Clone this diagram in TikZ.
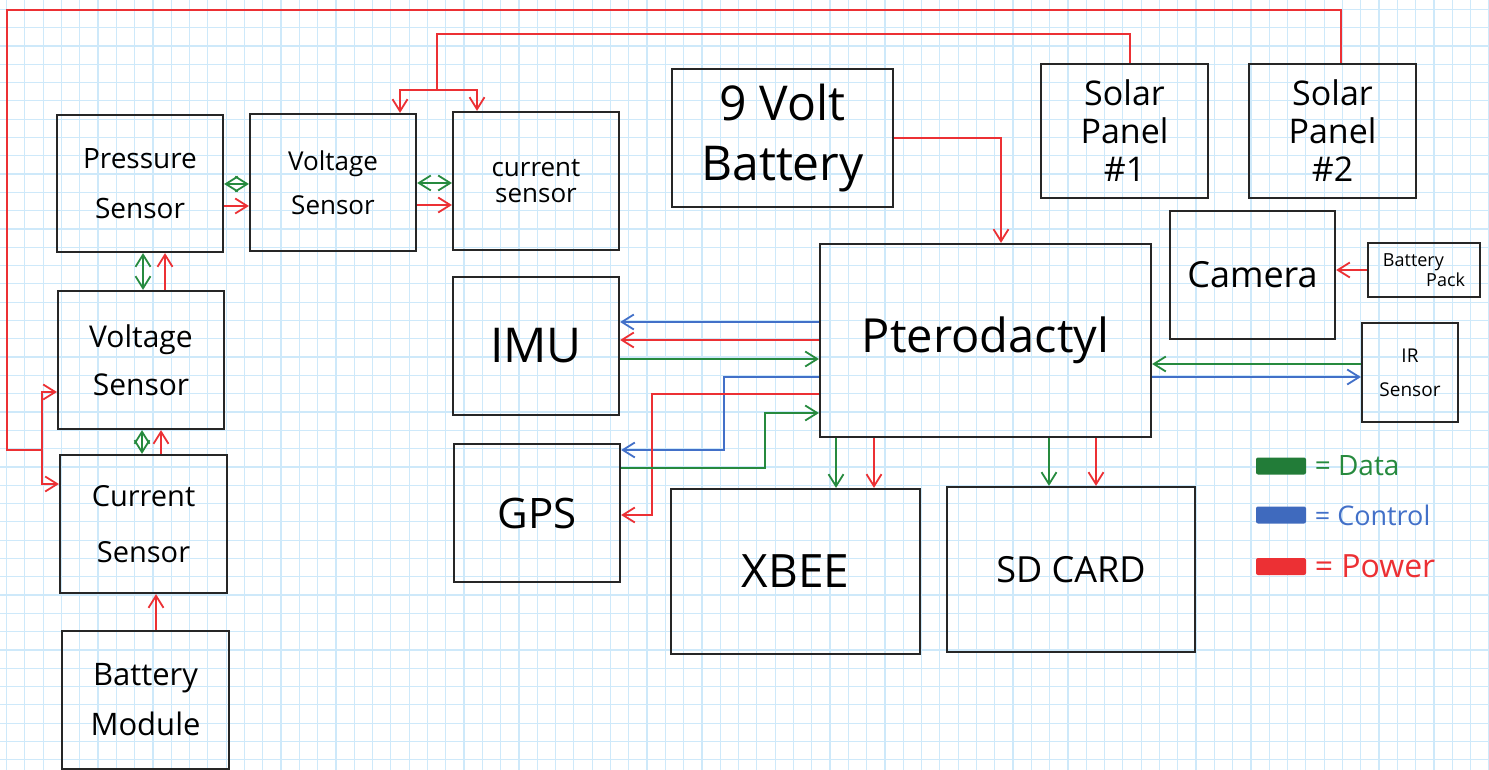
\documentclass[tikz,border=0pt]{standalone}
\usepackage{fontspec}
\setmainfont{Open Sans}
\usetikzlibrary{positioning, arrows.meta}

\definecolor{pwred}{RGB}{236,48,52}
\definecolor{datagreen}{RGB}{38,138,62}
\definecolor{ctrlblue}{RGB}{66,112,200}
\definecolor{gridblue}{RGB}{206,233,250}

\newcommand{\txtsize}[2]{\fontsize{#1}{#2}\selectfont}

\begin{document}
\begin{tikzpicture}[
    x=0.5pt, y=-0.5pt,
    >={Straight Barb[length=6pt,width=7.5pt]},
    box/.style={rectangle, draw=black!85, line width=1.1pt, align=center, inner sep=2pt},
    gridln/.style={draw=gridblue, line width=0.6pt},
    wire/.style={line width=0.9pt},
    pw/.style={wire, draw=pwred},
    dt/.style={wire, draw=datagreen},
    ct/.style={wire, draw=ctrlblue},
    swatch/.style={rectangle, rounded corners=1pt, minimum width=25pt,
                   minimum height=8.5pt, inner sep=0pt},
    key/.style={inner sep=1pt, anchor=west}
]
  \useasboundingbox (0,0) rectangle (1489,770);
  \fill[white] (0,0) rectangle (1489,770);

  % squared paper
  \foreach \gx in {6.5,24.8,...,1489} \draw[gridln] (\gx,0) -- (\gx,770);
  \foreach \gy in {9.4,27.7,...,770} \draw[gridln] (0,\gy) -- (1489,\gy);

  % sensor chain on the left
  \node[box, minimum width=83pt, minimum height=68.5pt, font=\txtsize{14}{25}] (press) at (140,183.5) {Pressure\\Sensor};
  \node[box, minimum width=83pt, minimum height=68.5pt, font=\txtsize{13}{22}] (vsensA) at (333,182.5) {Voltage\\Sensor};
  \node[box, minimum width=83pt, minimum height=69pt, font=\txtsize{13}{13}] (isensA) at (536,181) {current\\sensor};
  \node[box, minimum width=83pt, minimum height=69pt, font=\txtsize{15}{24}] (vsensB) at (141,360) {Voltage\\Sensor};
  \node[box, minimum width=83.5pt, minimum height=69pt, font=\txtsize{14.5}{28}] (isensB) at (143.5,524) {Current\\Sensor};
  \node[box, minimum width=83.5pt, minimum height=69pt, font=\txtsize{15.5}{25}] (battmod) at (145.5,700) {Battery\\Module};

  % power sources
  \node[box, minimum width=110.5pt, minimum height=69pt, font=\txtsize{24}{30}] (batt9) at (782.5,138) {9 Volt\\Battery};
  \node[box, minimum width=83.5pt, minimum height=67pt, font=\txtsize{17}{19}] (solar1) at (1124.5,131) {Solar\\Panel\\\#1};
  \node[box, minimum width=83.5pt, minimum height=67pt, font=\txtsize{17}{19}] (solar2) at (1332.5,131) {Solar\\Panel\\\#2};

  % flight computer and peripherals
  \node[box, minimum width=165.5pt, minimum height=96.5pt, font=\txtsize{23.5}{28}] (ptero) at (985.5,340.5) {Pterodactyl};
  \node[box, minimum width=82.5pt, minimum height=64pt, font=\txtsize{18}{22}] (camera) at (1252.5,275) {Camera};
  \node[box, minimum width=56pt, minimum height=27pt, align=left, font=\txtsize{9}{8}] (battpack) at (1424,270) {Battery\\\hspace*{2.4em}Pack};
  \node[box, minimum width=48pt, minimum height=49.5pt, font=\txtsize{9.5}{17}] (irsens) at (1410,372.5) {IR\\Sensor};
  \node[box, minimum width=83pt, minimum height=69pt, font=\txtsize{24}{28}] (imu) at (536,346) {IMU};
  \node[box, minimum width=83pt, minimum height=69pt, font=\txtsize{21}{25}] (gps) at (537,513) {GPS};
  \node[box, minimum width=124.5pt, minimum height=82.5pt, font=\txtsize{23}{27}] (xbee) at (795.5,571.5) {XBEE};
  \node[box, minimum width=124pt, minimum height=82.5pt, font=\txtsize{18}{22}] (sdcard) at (1071,569.5) {SD CARD};

  % solar feeds
  \coordinate (loopNW) at (7,10);
  \coordinate (loopfork) at (42,450);
  \draw[pw] ([xshift=4.25pt]solar2.north) |- (loopNW) |- (loopfork);
  \draw[pw, ->] (loopfork) |- (vsensB.west |- 0,392);
  \draw[pw, ->] (loopfork) |- (isensB.west |- 0,484);

  \coordinate (s1top) at (437,34);
  \coordinate (s1fork) at (437,90);
  \draw[pw] ([xshift=2.75pt]solar1.north) |- (s1top) -- (s1fork);
  \draw[pw, ->] (s1fork) -| ([xshift=33.5pt]vsensA.north);
  \draw[pw, ->] (s1fork) -| ([xshift=-29.5pt]isensA.north);

  % sensor chain links
  \draw[dt, <->] (press.east |- 0,184) -- (vsensA.west |- 0,184);
  \draw[pw, ->] (press.east |- 0,206) -- (vsensA.west |- 0,206);
  \draw[dt, <->] (vsensA.east |- 0,183) -- (isensA.west |- 0,183);
  \draw[pw, ->] (vsensA.east |- 0,205) -- (isensA.west |- 0,205);
  \draw[dt, <->] (vsensB.north -| 143,0) -- (press.south -| 143,0);
  \draw[pw, ->] (vsensB.north -| 165,0) -- (press.south -| 165,0);
  \draw[dt, <->] (isensB.north -| 142,0) -- (vsensB.south -| 142,0);
  \draw[pw, ->] (isensB.north -| 161,0) -- (vsensB.south -| 161,0);
  \draw[pw, ->] (battmod.north -| 156,0) -- (isensB.south -| 156,0);

  % pterodactyl links
  \draw[pw, ->] (batt9.east) -| ([xshift=7.75pt]ptero.north);
  \draw[pw, ->] (battpack.west) -- (camera.east |- battpack.west);
  \draw[dt, ->] (irsens.west |- 0,364) -- (ptero.east |- 0,364);
  \draw[ct, ->] (ptero.east |- 0,377) -- (irsens.west |- 0,377);

  \draw[ct, ->] (ptero.west |- 0,322) -- (imu.east |- 0,322);
  \draw[pw, ->] (ptero.west |- 0,340) -- (imu.east |- 0,340);
  \draw[dt, ->] (imu.east |- 0,359) -- (ptero.west |- 0,359);

  \draw[ct, ->] (ptero.west |- 0,377) -- ++(-95,0) |- (gps.east |- 0,450);
  \draw[pw, ->] (ptero.west |- 0,394) -- ++(-167,0) |- (gps.east |- 0,515);
  \draw[dt, ->] (gps.east |- 0,468) -- ++(144,0) |- (ptero.west |- 0,413);

  \draw[dt, ->] (ptero.south -| 836,0) -- (xbee.north -| 836,0);
  \draw[pw, ->] (ptero.south -| 874,0) -- (xbee.north -| 874,0);
  \draw[dt, ->] (ptero.south -| 1049,0) -- (sdcard.north -| 1049,0);
  \draw[pw, ->] (ptero.south -| 1096,0) -- (sdcard.north -| 1096,0);

  % legend
  \node[swatch, fill=datagreen!90!black] (kdata) at (1281,466) {};
  \node[swatch, fill=ctrlblue!95!black] (kctrl) at (1281,515) {};
  \node[swatch, fill=pwred] (kpow) at (1281,566.5) {};
  \node[key, right=3pt of kdata, text=datagreen, font=\txtsize{14}{16}] (kdatat) {= Data};
  \node[key, right=3pt of kctrl, text=ctrlblue, font=\txtsize{13.5}{16}] (kctrlt) {= Control};
  \node[key, right=3pt of kpow, text=pwred, font=\txtsize{16}{18}] (kpowt) {= Power};
\end{tikzpicture}
\end{document}
